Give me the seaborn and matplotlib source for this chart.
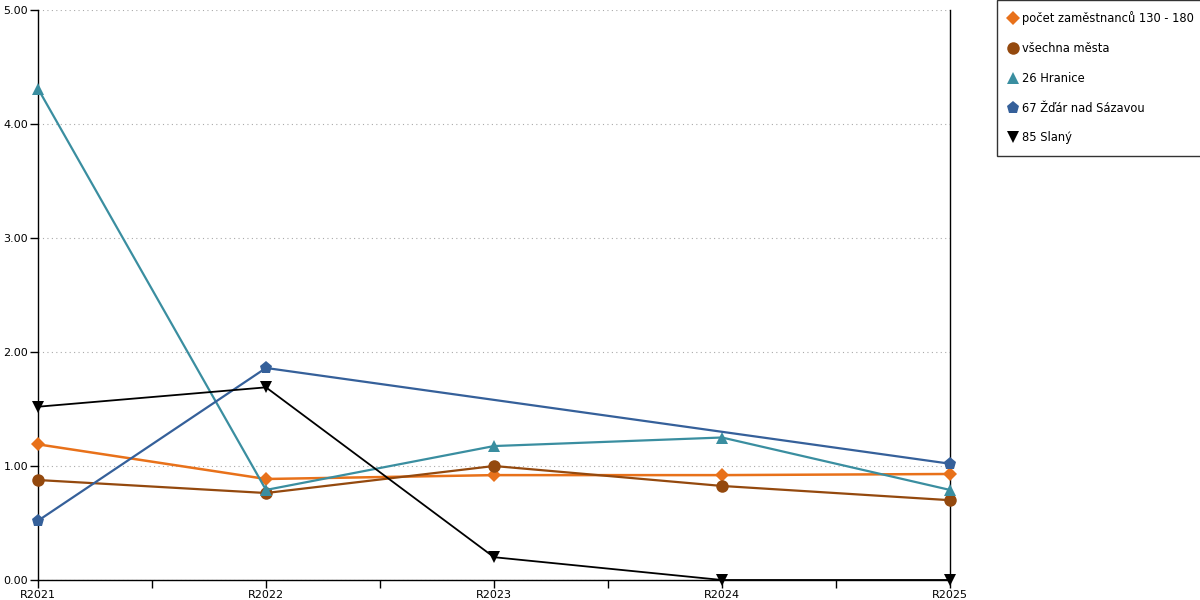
import numpy as np
import pandas as pd
import matplotlib
matplotlib.use("Agg")
import matplotlib.pyplot as plt
import seaborn as sns
from matplotlib.lines import Line2D
from matplotlib.ticker import FormatStrFormatter, MultipleLocator

years = ["R2021", "R2022", "R2023", "R2024", "R2025"]
pocet = [1.19, 0.886, 0.92, 0.92, 0.93]
vsechna = [0.877, 0.763, 1.0, 0.825, 0.70]
hranice = [4.31, 0.79, 1.175, 1.25, 0.79]
zdar = [0.52, 1.86, np.nan, np.nan, 1.02]
slany = [1.52, 1.69, 0.20, 0.0, 0.0]

names = ["počet zaměstnanců 130 - 180", "všechna města", "26 Hranice",
         "67 Žďár nad Sázavou", "85 Slaný"]
series = [pocet, vsechna, hranice, zdar, slany]
colors = ["#e8711a", "#94490e", "#3a8ea0", "#35609a", "#000000"]
markers = ["D", "o", "^", "p", "v"]
msizes = [7, 9, 9, 9.5, 9]
lwidths = [1.8, 1.6, 1.6, 1.6, 1.3]

sns.set_style("white")
plt.rcParams['font.family'] = ['DejaVu Sans']
plt.rcParams['text.color'] = 'black'
plt.rcParams['xtick.color'] = 'black'
plt.rcParams['ytick.color'] = 'black'

fig = plt.figure(figsize=(12, 6), dpi=100)
ax = fig.add_axes([38/1200, 20/600, (950-38)/1200, (580-10)/600])

pos = np.arange(len(years))
for name, vals, c, m, ms, lw in zip(names, series, colors, markers, msizes, lwidths):
    df = pd.DataFrame({"x": pos, "y": vals}).dropna()
    sns.lineplot(data=df, x="x", y="y", ax=ax, color=c, marker=m, markersize=ms,
                 markeredgewidth=0, linewidth=lw, clip_on=False, zorder=3, legend=False)

ax.set_xlim(0, 4)
ax.set_ylim(0, 5)
ax.set_xticks(pos)
ax.set_xticklabels(years)
ax.xaxis.set_minor_locator(MultipleLocator(0.5))
ax.yaxis.set_major_locator(MultipleLocator(1))
ax.yaxis.set_major_formatter(FormatStrFormatter("%.2f"))
ax.set_xlabel("")
ax.set_ylabel("")
ax.tick_params(axis="both", which="both", direction="out", length=6, width=1,
               color="black", labelcolor="black", labelsize=8, pad=1,
               bottom=True, left=True)
ax.tick_params(axis="x", which="major", pad=1)
ax.tick_params(axis="x", which="minor", length=6)
ax.grid(axis="y", linestyle=(0, (1, 3)), color="#aaaaaa", linewidth=0.8)
ax.set_axisbelow(True)
for s in ["left", "bottom", "right"]:
    ax.spines[s].set_visible(True)
    ax.spines[s].set_color("black")
    ax.spines[s].set_linewidth(1)
ax.spines["top"].set_visible(False)

handles = [Line2D([], [], linestyle="none", marker=m, color=c, markersize=ms, markeredgewidth=0)
           for c, m, ms in zip(colors, markers, msizes)]
leg = fig.legend(handles, names, loc="upper left", bbox_to_anchor=(997/1200, 1.0),
                 frameon=True, fancybox=False, edgecolor="black", fontsize=8.3,
                 handlelength=0.8, handletextpad=0.35, labelspacing=1.45,
                 borderpad=1.0, borderaxespad=0)
leg.get_frame().set_linewidth(1)

fig.savefig("out.png", dpi=100)
